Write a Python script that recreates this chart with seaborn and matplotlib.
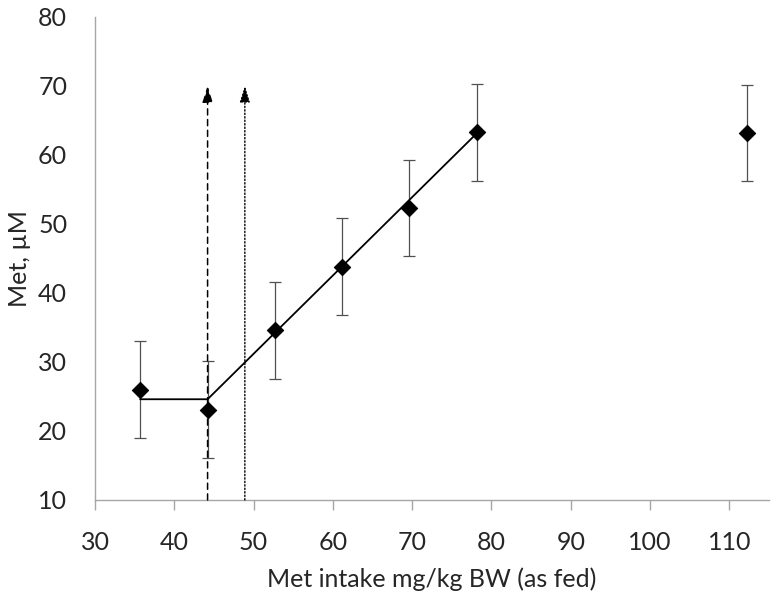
import matplotlib
matplotlib.use("Agg")
import matplotlib.pyplot as plt
import seaborn as sns
import pandas as pd

# data
intake = [35.7, 44.2, 52.7, 61.2, 69.6, 78.2, 112.2]
met = [26.0, 23.1, 34.6, 43.8, 52.3, 63.3, 63.2]
met_err = [7.0, 7.0, 7.0, 7.0, 7.0, 7.0, 7.0]

# broken-line fit
fit_x = [35.7, 44.2, 78.2]
fit_y = [24.6, 24.6, 63.2]

# breakpoint arrows
bp_dashed = 44.2
bp_dotted = 48.9
arrow_top = 70

sns.set_style("white")
plt.rcParams['font.family'] = ['Lato', 'DejaVu Sans']

df = pd.DataFrame({"intake": intake, "met": met})
fit = pd.DataFrame({"x": fit_x, "y": fit_y})

fig = plt.figure(figsize=(7.76, 5.98), dpi=100)
ax = fig.add_axes([0.1224, 0.1639, 0.8686, 0.8077])

ax.errorbar(intake, met, yerr=met_err, fmt="none", ecolor="#505050",
            elinewidth=0.9, capsize=4, capthick=0.9, zorder=2)
sns.lineplot(data=fit, x="x", y="y", color="black", linewidth=1.3, ax=ax, zorder=3)
sns.scatterplot(data=df, x="intake", y="met", marker="D", s=70, color="black",
                edgecolor="black", ax=ax, zorder=4)

# arrows marking the breakpoints
ax.annotate("", xy=(bp_dashed, arrow_top), xytext=(bp_dashed, 10),
            arrowprops=dict(arrowstyle="-|>,head_length=0.7,head_width=0.22", color="black", lw=1.1,
                            linestyle=(0, (4, 3)), mutation_scale=14, shrinkA=0, shrinkB=0))
ax.annotate("", xy=(bp_dotted, arrow_top), xytext=(bp_dotted, 10),
            arrowprops=dict(arrowstyle="-|>,head_length=0.7,head_width=0.22", color="black", lw=1.0,
                            linestyle=(0, (1, 1.5)), mutation_scale=14, shrinkA=0, shrinkB=0))

ax.set_xlim(30, 115)
ax.set_ylim(10, 80)
ax.set_xticks(range(30, 111, 10))
ax.set_yticks(range(10, 81, 10))

sns.despine(ax=ax)
for s in ["left", "bottom"]:
    ax.spines[s].set_color("#a6a6a6")
    ax.spines[s].set_linewidth(1.0)

ax.tick_params(axis="x", direction="out", length=7, width=1, color="#a6a6a6",
               pad=15, labelsize=18, bottom=True)
ax.tick_params(axis="y", length=0, pad=20, labelsize=18)

ax.set_xlabel("Met intake mg/kg BW (as fed)", fontsize=18, labelpad=10)
ax.set_ylabel("Met, µM", fontsize=18, labelpad=5)

fig.savefig("out.png", dpi=100)
